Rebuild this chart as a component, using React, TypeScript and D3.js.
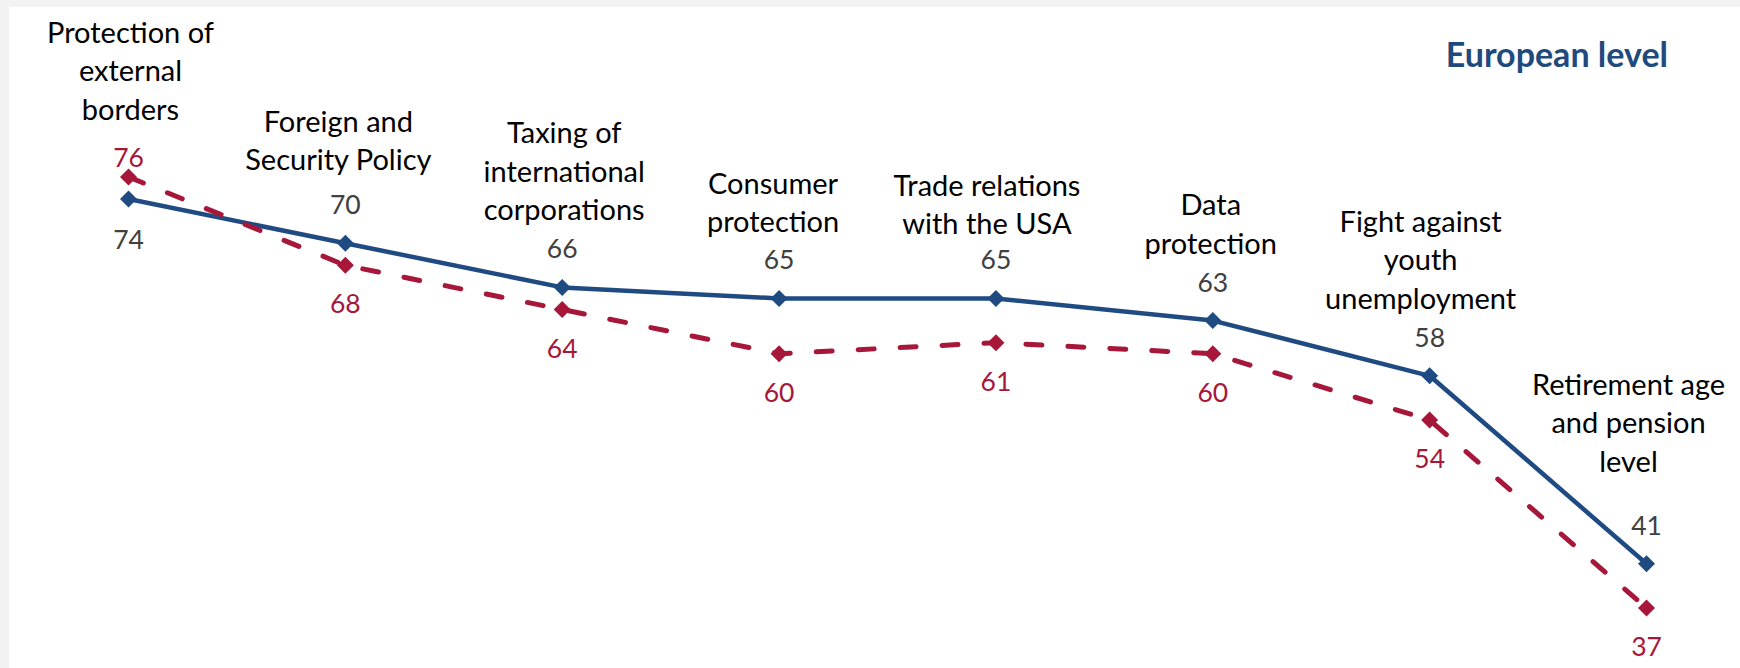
import React from "react";
import * as d3 from "d3";

const categories = [
  "Protection of external borders",
  "Foreign and Security Policy",
  "Taxing of international corporations",
  "Consumer protection",
  "Trade relations with the USA",
  "Data protection",
  "Fight against youth unemployment",
  "Retirement age and pension level",
];

const categoryLines = [
  ["Protection of", "external", "borders"],
  ["Foreign and", "Security Policy"],
  ["Taxing of", "international", "corporations"],
  ["Consumer", "protection"],
  ["Trade relations", "with the USA"],
  ["Data", "protection"],
  ["Fight against", "youth", "unemployment"],
  ["Retirement age", "and pension", "level"],
];

const blueValues = [74, 70, 66, 65, 65, 63, 58, 41];
const redValues = [76, 68, 64, 60, 61, 60, 54, 37];

const title = "European level";

// layout tweaks for category labels (gap above the top value label, horizontal nudge)
const labelGap = [47, 44, 38, 37, 35, 38, 38, 63];
const labelDx = [2, -7, 2, -6, -9, -2, -9, -18];

const W = 1740;
const H = 668;
const BLUE = "#1f4b82";
const RED = "#a6173a";
const GREY = "#404040";
const FONT = "Lato, 'Noto Sans', sans-serif";

export default function App() {
  const x = d3.scalePoint<string>().domain(categories).range([128.5, 1646.5]);
  const y = d3.scaleLinear().domain([37, 76]).range([607.9, 176.9]);

  const line = d3
    .line<number>()
    .x((_, i) => x(categories[i]) as number)
    .y((d) => y(d));

  const diamond = (cx: number, cy: number, r: number) =>
    `M${cx},${cy - r}L${cx + r},${cy}L${cx},${cy + r}L${cx - r},${cy}Z`;

  const lineHeight = 38.5;

  return (
    <div style={{ position: "absolute", left: 0, top: 0 }}>
      <svg width={W} height={H} style={{ display: "block" }}>
        <rect x={0} y={0} width={W} height={H} fill="#f2f2f2" />
        <rect x={9} y={7} width={W - 9} height={H - 7} fill="#ffffff" />

        <text
          x={1668}
          y={66.7}
          textAnchor="end"
          fontFamily={FONT}
          fontWeight="bold"
          fontSize={34}
          fill="#1f4a7e"
        >
          {title}
        </text>

        <path d={line(blueValues) as string} fill="none" stroke={BLUE} strokeWidth={4.5} strokeLinejoin="round" />
        {blueValues.map((v, i) => (
          <path key={"bm" + i} d={diamond(x(categories[i]) as number, y(v), 8.5)} fill={BLUE} />
        ))}

        <path
          d={line(redValues) as string}
          fill="none"
          stroke={RED}
          strokeWidth={5}
          strokeDasharray="16 26"
          strokeLinecap="round"
          strokeLinejoin="round"
        />
        {redValues.map((v, i) => (
          <path key={"rm" + i} d={diamond(x(categories[i]) as number, y(v), 8.5)} fill={RED} />
        ))}

        {categories.map((c, i) => {
          const cx = x(c) as number;
          const b = blueValues[i];
          const r = redValues[i];
          const redAbove = r > b;
          const blueBase = redAbove ? y(b) + 50 : y(b) - 29;
          const redBase = redAbove ? y(r) - 10 : y(r) + 48;
          const topBase = redAbove ? redBase : blueBase;
          const lines = categoryLines[i];
          const lastBase = topBase - labelGap[i];
          return (
            <g key={"lab" + i} fontFamily={FONT}>
              <text x={cx} y={blueBase} textAnchor="middle" fontSize={26.5} fill={GREY}>
                {b}
              </text>
              <text x={cx} y={redBase} textAnchor="middle" fontSize={26.5} fill={RED}>
                {r}
              </text>
              {lines.map((t, j) => (
                <text
                  key={j}
                  x={cx + labelDx[i]}
                  y={lastBase - (lines.length - 1 - j) * lineHeight}
                  textAnchor="middle"
                  fontSize={29}
                  fill="#000000"
                >
                  {t}
                </text>
              ))}
            </g>
          );
        })}
      </svg>
    </div>
  );
}
